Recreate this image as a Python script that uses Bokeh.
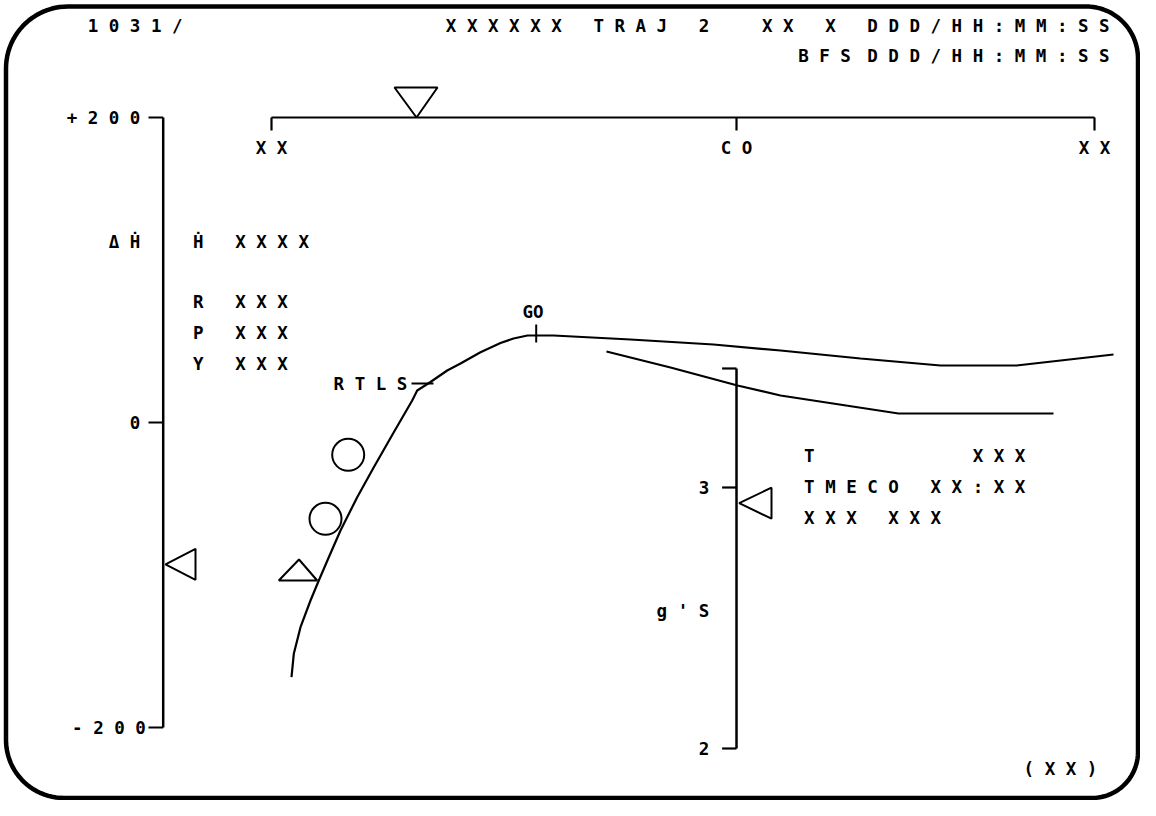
import numpy as np
from bokeh.plotting import figure
from bokeh.models import Range1d
from bokeh.embed import file_html
from bokeh.resources import INLINE
from bokeh.core.properties import value

# ---------------- data ----------------
# display character grid: column centre x = GRID_X0 + GRID_DX * col
GRID_X0, GRID_DX = 8.2, 21.07

# Delta-H-dot scale (ft/s)
dh_ticks = [200, 0, -200]
dh_tick_labels = ["+200", "0", "-200"]
dh_pointer = [-93]

# g's scale
g_ticks = [3.456, 3, 2]
g_tick_labels = ["", "3", "2"]
g_pointer = [2.94]

# top cut-off scale (screen x)
top_scale_ticks = [271, 736, 1094]
top_scale_labels = ["XX", "CO", "XX"]
top_pointer = [416]

# nominal trajectory line (screen coordinates)
traj_x = [291, 293.3, 300, 310, 318.3, 328.3, 340, 356.7, 373.3, 393.3, 411.7, 416.7,
          430, 446.7, 460, 480, 500, 513, 527, 553, 630, 713, 780, 860, 940, 1016, 1113]
traj_y = [676.7, 653.3, 626.7, 600, 580, 556.7, 530, 496.7, 466.7, 431.7, 400, 390,
          381.5, 370, 363, 351.7, 342.5, 338, 335, 335, 339, 344, 350, 358, 365, 365, 354]

# second (lower) line
low_x = [606, 670, 737, 780, 898, 1053]
low_y = [351, 367, 385, 395, 413, 413]

# predictor circles and current-state triangle
circle_x = [347.7, 325.0]
circle_y = [454.3, 518.3]
state_x = [298.5]
state_y = [580]

# event marks on the trajectory
rtls_mark = (411, 433, 383)
go_mark = (535.7, 324, 342)

# text items on the character grid: (first column, y, string)
grid_texts = [
    (4, 25.5, "1031/"),
    (21, 25.5, "XXXXXX TRAJ 2  XX X DDD/HH:MM:SS"),
    (41, 55.5, "DDD/HH:MM:SS"),
    (5, 241, "ΔḢ"),
    (9, 241, "Ḣ XXXX"),
    (9, 301, "R XXX"),
    (9, 332.5, "P XXX"),
    (9, 363, "Y XXX"),
    (38, 455, "T       XXX"),
    (38, 486, "TMECO XX:XX"),
    (38, 517, "XXX XXX"),
    (31, 610, "g'S"),
]
# free-standing texts: (centre x, y, string)
free_texts = [
    (824, 55.5, "BFS"),
    (370, 383, "RTLS"),
    (1060, 768, "(XX)"),
]

# ---------------- layout ----------------
W, H = 1140, 800
DH_TOP, DH_BOT = 117, 727                     # screen y of +200 / -200
G3, G2 = 487, 748                             # screen y of 3 g / 2 g
DH_PER_PX = 400.0 / (DH_BOT - DH_TOP)
G_PER_PX = 1.0 / (G2 - G3)


def dh_at(y):
    return 200 - (y - DH_TOP) * DH_PER_PX


def g_at(y):
    return 3 - (y - G3) * G_PER_PX


p = figure(width=W, height=H, x_range=Range1d(0, W), y_range=Range1d(H, 0),
           output_backend="svg", toolbar_location=None,
           x_axis_location=None, y_axis_location=None,
           min_border_left=0, min_border_right=0, min_border_top=0, min_border_bottom=0)
p.extra_y_ranges = {"dh": Range1d(dh_at(H), dh_at(0)),
                    "g": Range1d(g_at(H), g_at(0))}
p.grid.visible = False
p.outline_line_color = None
p.background_fill_color = "white"
p.border_fill_color = "white"

INK = "black"
FONT = value("DejaVu Sans Mono")
FS = "17.5px"
NB = "\u00a0"


def spaced(s):
    return NB.join(NB if c == " " else c for c in s)


# ---- rounded frame ----
def rounded_rect(x0, x1, y0, y1, r_tl, r_tr, r_br, r_bl, n=24):
    xs, ys = [], []

    def arc(cx, cy, r, a0, a1):
        t = np.linspace(a0, a1, n)
        xs.extend(cx + r * np.cos(t))
        ys.extend(cy + r * np.sin(t))
    arc(x0 + r_tl, y0 + r_tl, r_tl, np.pi, 1.5 * np.pi)
    arc(x1 - r_tr, y0 + r_tr, r_tr, 1.5 * np.pi, 2 * np.pi)
    arc(x1 - r_br, y1 - r_br, r_br, 0, 0.5 * np.pi)
    arc(x0 + r_bl, y1 - r_bl, r_bl, 0.5 * np.pi, np.pi)
    xs.append(xs[0]); ys.append(ys[0])
    return xs, ys


fx, fy = rounded_rect(5.5, 1137.5, 6, 797.5, 62, 52, 46, 58)
p.line(fx, fy, line_color=INK, line_width=4.5)

# ---- ΔḢ axis ----
AX_DH = 162.7
p.segment(x0=[AX_DH], x1=[AX_DH], y0=[min(dh_ticks)], y1=[max(dh_ticks)],
          y_range_name="dh", line_color=INK, line_width=2.5)
p.segment(x0=[148] * 3, x1=[AX_DH] * 3, y0=dh_ticks, y1=dh_ticks,
          y_range_name="dh", line_color=INK, line_width=2.2)
dh_lbl_x = [GRID_X0 + GRID_DX * 4.5, GRID_X0 + GRID_DX * 6, 108.5]
p.text(x=dh_lbl_x, y=dh_ticks, text=[spaced(t) for t in dh_tick_labels],
       y_range_name="dh", text_font=FONT, text_font_style="bold", text_font_size=FS,
       text_align="center", text_baseline="middle", text_color=INK)
hh = 15.5 * DH_PER_PX
p.patches(xs=[[165, 195, 195, 165] for _ in dh_pointer],
          ys=[[v, v + hh, v - hh, v] for v in dh_pointer],
          y_range_name="dh", fill_color=None, line_color=INK, line_width=2)

# ---- g axis ----
AX_G = 736
p.segment(x0=[AX_G], x1=[AX_G], y0=[min(g_ticks)], y1=[max(g_ticks)],
          y_range_name="g", line_color=INK, line_width=2.5)
p.segment(x0=[721.6] * 3, x1=[AX_G] * 3, y0=g_ticks, y1=g_ticks,
          y_range_name="g", line_color=INK, line_width=2.2)
p.text(x=[GRID_X0 + GRID_DX * 33] * 2, y=g_ticks[1:], text=g_tick_labels[1:],
       y_range_name="g", text_font=FONT, text_font_style="bold", text_font_size=FS,
       text_align="center", text_baseline="middle", text_color=INK)
gh = 15.5 * G_PER_PX
p.patches(xs=[[738.7, 771, 771, 738.7] for _ in g_pointer],
          ys=[[v, v + gh, v - gh, v] for v in g_pointer],
          y_range_name="g", fill_color=None, line_color=INK, line_width=2)

# ---- top cut-off scale ----
TOP_Y = 117
p.segment(x0=[min(top_scale_ticks)], x1=[max(top_scale_ticks)], y0=[TOP_Y], y1=[TOP_Y],
          line_color=INK, line_width=2.2)
p.segment(x0=top_scale_ticks, x1=top_scale_ticks, y0=[TOP_Y] * 3, y1=[130] * 3,
          line_color=INK, line_width=2.2)
p.text(x=top_scale_ticks, y=[147.7] * 3, text=[spaced(t) for t in top_scale_labels],
       text_font=FONT, text_font_style="bold", text_font_size=FS,
       text_align="center", text_baseline="middle", text_color=INK)
p.patches(xs=[[v, v - 22, v + 21, v] for v in top_pointer],
          ys=[[TOP_Y, 87, 87, TOP_Y] for _ in top_pointer],
          fill_color=None, line_color=INK, line_width=2)

# ---- trajectory lines ----
p.line(traj_x, traj_y, line_color=INK, line_width=2.2)
p.line(low_x, low_y, line_color=INK, line_width=2.2)
p.segment(x0=[rtls_mark[0]], x1=[rtls_mark[1]], y0=[rtls_mark[2]], y1=[rtls_mark[2]],
          line_color=INK, line_width=2)
p.segment(x0=[go_mark[0]], x1=[go_mark[0]], y0=[go_mark[1]], y1=[go_mark[2]],
          line_color=INK, line_width=2)

# predictors and current-state triangle
p.scatter(circle_x, circle_y, marker="circle", size=32, fill_color=None,
          line_color=INK, line_width=2)
p.patches(xs=[[x - 20.2, x, x + 18.2, x - 20.2] for x in state_x],
          ys=[[y, y - 21, y, y] for y in state_y],
          fill_color=None, line_color=INK, line_width=2)

# ---- texts ----
tx, ty, tt = [], [], []
for col, y, s in grid_texts:
    n = len(s)
    tx.append(GRID_X0 + GRID_DX * (col + (n - 1) / 2.0))
    ty.append(y)
    tt.append(spaced(s))
for x, y, s in free_texts:
    tx.append(x); ty.append(y); tt.append(spaced(s))
p.text(x=tx, y=ty, text=tt, text_font=FONT, text_font_style="bold",
       text_font_size=FS, text_align="center", text_baseline="middle", text_color=INK)
p.text(x=[532.5], y=[311], text=["GO"], text_font=FONT, text_font_style="bold",
       text_font_size=FS, text_align="center", text_baseline="middle", text_color=INK)

open("out.html", "w").write(file_html(p, INLINE))
